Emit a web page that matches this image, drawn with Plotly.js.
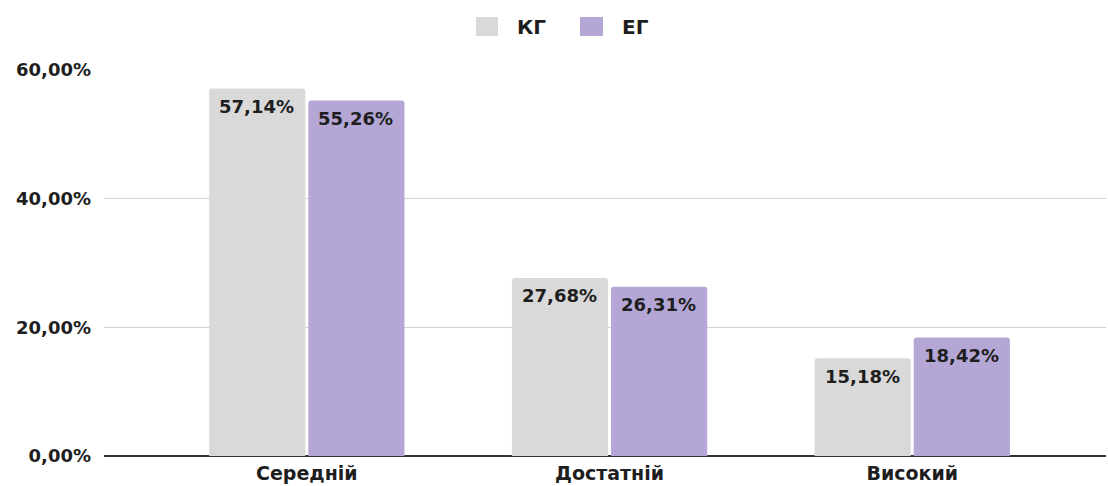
<!DOCTYPE html>
<html>
<head>
<meta charset="utf-8">
<script src="https://cdn.plot.ly/plotly-3.0.1.min.js"></script>
<style>
html,body{margin:0;padding:0;background:#fff;}
#chart{width:1108px;height:486px;}
</style>
</head>
<body>
<div id="chart"></div>
<script>
const categories = ["Середній", "Достатній", "Високий"];
const seriesNames = ["КГ", "ЕГ"];
const kgValues = [57.14, 27.68, 15.18];
const egValues = [55.26, 26.31, 18.42];
const tickValues = [0, 20, 40, 60];
const tickLabels = ["0,00%", "20,00%", "40,00%", "60,00%"];
const seriesColors = ["#d9d9d9", "#b4a7d6"];

function fmt(v){ return v.toFixed(2).replace('.', ',') + '%'; }

const txtColor = "#1e1e1e";
const labelFont = {family: "DejaVu Sans", size: 18, weight: 700, color: txtColor};

const traces = [kgValues, egValues].map((vals, i) => ({
  type: "bar", name: seriesNames[i], x: categories, y: vals,
  marker: {color: seriesColors[i]}, hoverinfo: "none"
}));

// Value labels placed through the axes (inside top of each bar)
const annotations = [];
[kgValues, egValues].forEach((vals, i) => {
  vals.forEach((v, j) => {
    annotations.push({
      x: categories[j], y: v, xref: "x", yref: "y",
      text: fmt(v), showarrow: false,
      xshift: i === 0 ? -50 : 49, yshift: -18,
      xanchor: "center", yanchor: "middle",
      font: labelFont
    });
  });
});

// Legend (custom, larger squares)
const plotL = 104, plotW = 1002, plotB = 456, plotH = 386;
const px = v => (v - plotL) / plotW;
const py = v => (plotB - v) / plotH;
const legendSquares = [[476, 498], [580, 603]];
const legendTextX = [515, 620];
const shapes = [];
seriesNames.forEach((n, i) => {
  shapes.push({type: "rect", xref: "paper", yref: "paper",
    x0: px(legendSquares[i][0]), x1: px(legendSquares[i][1]),
    y0: py(36), y1: py(17), fillcolor: seriesColors[i], line: {width: 0}, layer: "above"});
  annotations.push({xref: "paper", yref: "paper", x: px(legendTextX[i]), y: py(27),
    xanchor: "left", yanchor: "middle", showarrow: false, text: n,
    font: {family: "DejaVu Sans", size: 20, weight: 700, color: txtColor}});
});

const layout = {
  width: 1108, height: 486,
  margin: {l: 104, r: 2, t: 70, b: 30, autoexpand: false},
  paper_bgcolor: "#ffffff", plot_bgcolor: "#ffffff",
  barmode: "group", bargap: 0.345, bargroupgap: 0.03, barcornerradius: 3,
  showlegend: false,
  xaxis: {type: "category", range: [-0.67, 2.64], showgrid: false, zeroline: false,
          showline: false, ticks: "", ticklabelstandoff: 4,
          tickfont: {family: "DejaVu Sans", size: 19, weight: 700, color: txtColor}},
  yaxis: {range: [0, 60], tickvals: tickValues, ticktext: tickLabels,
          showgrid: true, gridcolor: "#d3d3d3", gridwidth: 1,
          zeroline: true, zerolinecolor: "#333333", zerolinewidth: 1.5,
          showline: false, ticks: "", ticklabelstandoff: 12,
          tickfont: {family: "DejaVu Sans", size: 18, weight: 700, color: txtColor}},
  annotations: annotations,
  shapes: shapes
};

Plotly.newPlot("chart", traces, layout, {displayModeBar: false, staticPlot: true});
</script>
</body>
</html>
